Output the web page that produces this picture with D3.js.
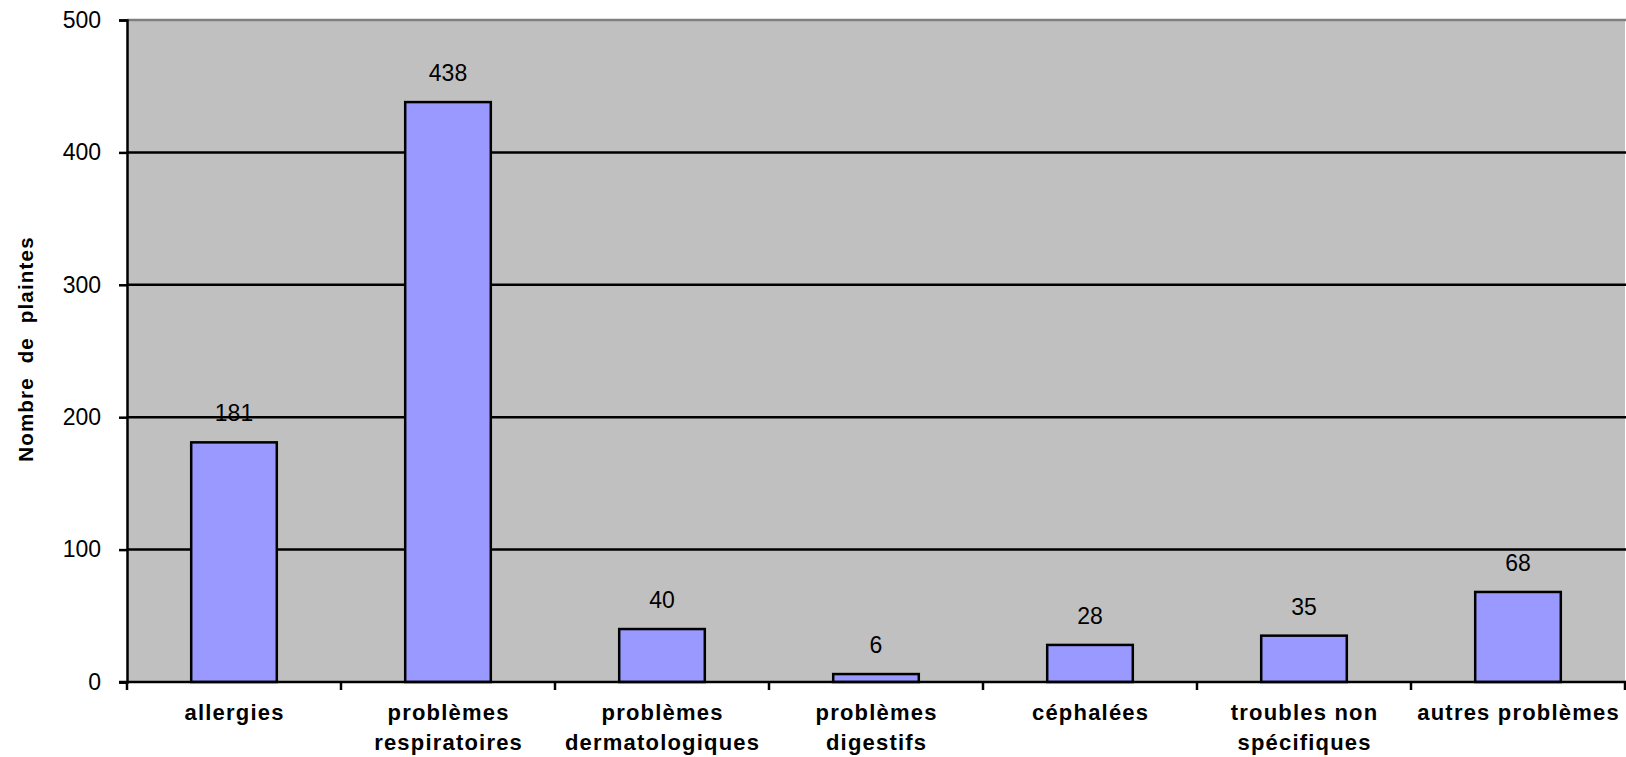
<!DOCTYPE html>
<html>
<head>
<meta charset="utf-8">
<script src="https://cdn.jsdelivr.net/npm/d3@7"></script>
<style>
    body { margin: 0; background: #fff; }
    svg { display: block; font-family: "Liberation Sans", Arial, sans-serif; }
</style>
</head>
<body>
<div id="chart"></div>
<script>
// chart values
const categories = ["allergies", "problèmes\nrespiratoires", "problèmes\ndermatologiques",
    "problèmes\ndigestifs", "céphalées", "troubles non\nspécifiques", "autres problèmes"];
const complaints = [181, 438, 40, 6, 28, 35, 68];
const yTicks = [0, 100, 200, 300, 400, 500];
const yTitle = "Nombre  de  plaintes";

const width = 1626;
const height = 757;
const marginTop = 20;
const marginBottom = 75;
const marginLeft = 127;
const plotRight = 1625;

const svg = d3.create("svg")
    .attr("width", width)
    .attr("height", height);

const yScale = d3.scaleLinear()
    .domain([0, 500])
    .range([height - marginBottom, marginTop]);

// one slot per category, for ticks and labels
const xSlot = d3.scaleBand()
    .domain(categories)
    .range([marginLeft, plotRight])
    .padding(0);

// bars take 40% of a slot
const xBar = d3.scaleBand()
    .domain(categories)
    .range([marginLeft, plotRight])
    .paddingInner(0.6)
    .paddingOuter(0.3);

// plot area
svg.append("rect")
    .attr("x", marginLeft)
    .attr("y", yScale(500))
    .attr("width", plotRight - marginLeft)
    .attr("height", yScale(0) - yScale(500))
    .attr("fill", "#C0C0C0");

svg.append("line")
    .attr("x1", marginLeft)
    .attr("x2", plotRight + 2)
    .attr("y1", yScale(500))
    .attr("y2", yScale(500))
    .attr("stroke", "#808080")
    .attr("stroke-width", 2.5);

// gridlines
svg.append("g")
    .selectAll("line")
    .data(yTicks.filter(d => d > 0 && d < 500))
    .join("line")
    .attr("x1", marginLeft)
    .attr("x2", plotRight + 2)
    .attr("y1", d => yScale(d))
    .attr("y2", d => yScale(d))
    .attr("stroke", "#000")
    .attr("stroke-width", 2.5);

// bars
svg.append("g")
    .selectAll("rect")
    .data(complaints)
    .join("rect")
    .attr("x", (d, i) => xBar(categories[i]))
    .attr("y", d => yScale(d))
    .attr("width", xBar.bandwidth())
    .attr("height", d => yScale(0) - yScale(d))
    .attr("fill", "#9999FF")
    .attr("stroke", "#000")
    .attr("stroke-width", 2.5);

// value labels
svg.append("g")
    .selectAll("text")
    .data(complaints)
    .join("text")
    .attr("x", (d, i) => xSlot(categories[i]) + xSlot.bandwidth() / 2)
    .attr("y", d => yScale(d) - 21)
    .attr("text-anchor", "middle")
    .attr("font-size", 23)
    .attr("fill", "#000")
    .text(d => d);

// y axis
const yAxis = svg.append("g")
    .attr("transform", `translate(${marginLeft},0)`)
    .call(d3.axisLeft(yScale).tickValues(yTicks).tickSize(8).tickPadding(18));
yAxis.select(".domain").attr("stroke-width", 2.5);
yAxis.selectAll(".tick line").attr("stroke-width", 2.5);
yAxis.selectAll(".tick text")
    .attr("font-size", 23)
    .attr("font-family", "Liberation Sans, Arial, sans-serif")
    .attr("fill", "#000");

// x axis, ticks between the categories
const xAxis = svg.append("g");
xAxis.append("line")
    .attr("x1", marginLeft - 8)
    .attr("x2", plotRight + 2)
    .attr("y1", yScale(0))
    .attr("y2", yScale(0))
    .attr("stroke", "#000")
    .attr("stroke-width", 2.5);

xAxis.selectAll(".xtick")
    .data(categories.concat([null]))
    .join("line")
    .attr("class", "xtick")
    .attr("x1", (d, i) => marginLeft + i * xSlot.step())
    .attr("x2", (d, i) => marginLeft + i * xSlot.step())
    .attr("y1", yScale(0))
    .attr("y2", yScale(0) + 8)
    .attr("stroke", "#000")
    .attr("stroke-width", 2.5);

const labels = xAxis.selectAll(".xlabel")
    .data(categories)
    .join("text")
    .attr("class", "xlabel")
    .attr("x", d => xSlot(d) + xSlot.bandwidth() / 2 + 0.6)
    .attr("y", 720)
    .attr("text-anchor", "middle")
    .attr("font-size", 22)
    .attr("font-weight", "bold")
    .attr("letter-spacing", 1.2)
    .attr("fill", "#000");

labels.selectAll("tspan")
    .data(d => d.split("\n"))
    .join("tspan")
    .attr("x", function() { return this.parentNode.getAttribute("x"); })
    .attr("dy", (d, i) => i === 0 ? 0 : 29.5)
    .text(d => d);

// y title
svg.append("text")
    .attr("transform", `translate(33,${(yScale(0) + yScale(500)) / 2 - 2}) rotate(-90)`)
    .attr("text-anchor", "middle")
    .attr("font-size", 20.5)
    .attr("font-weight", "bold")
    .attr("letter-spacing", 1.2)
    .style("white-space", "pre")
    .attr("fill", "#000")
    .text(yTitle);

document.getElementById("chart").append(svg.node());
</script>
</body>
</html>
